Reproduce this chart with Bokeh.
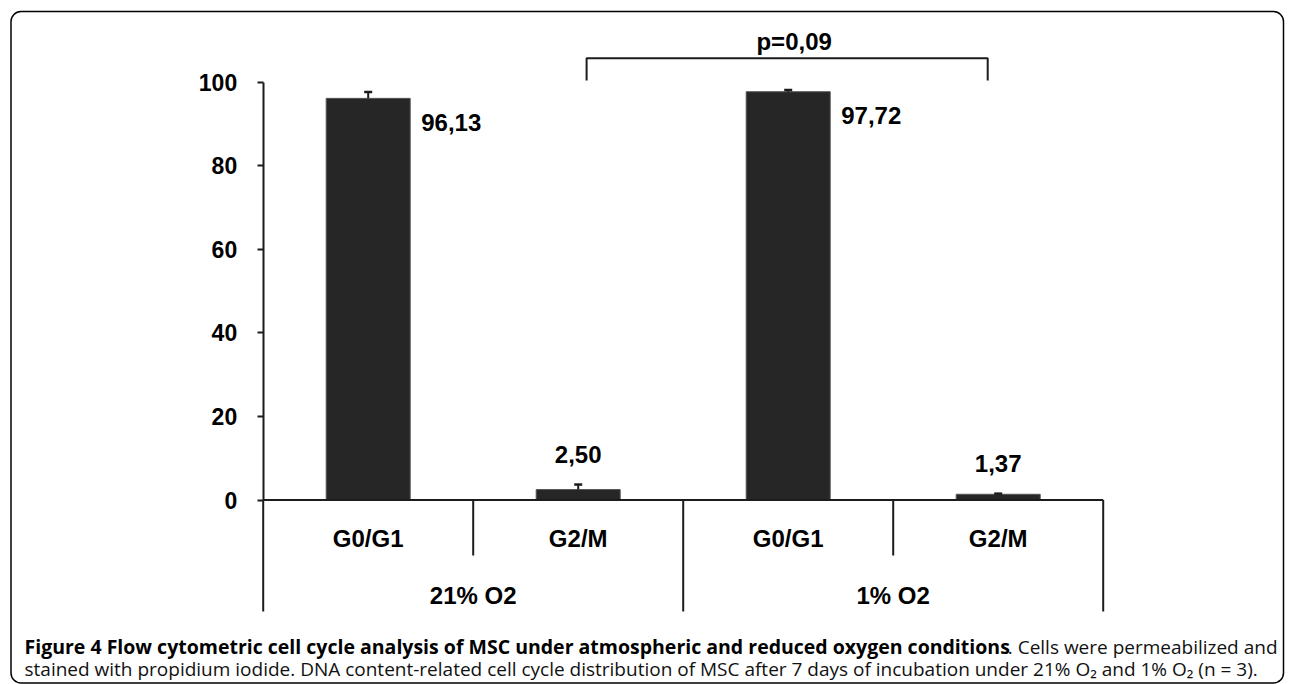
from bokeh.plotting import figure
from bokeh.models import LinearAxis, FixedTicker, Range1d, BoxAnnotation
from bokeh.core.properties import value
from bokeh.embed import file_html
from bokeh.resources import INLINE

# ---------------- data ----------------
groups = ["21% O2", "1% O2"]
phases = ["G0/G1", "G2/M"]
means = [96.13, 2.50, 97.72, 1.37]
errors = [1.5, 1.2, 0.4, 0.15]
value_labels = ["96,13", "2,50", "97,72", "1,37"]
y_ticks = [0, 20, 40, 60, 80, 100]
p_label = "p=0,09"
caption_bold = ("Figure 4 Flow cytometric cell cycle analysis of MSC under "
                "atmospheric and reduced oxygen conditions")
caption_rest1 = ". Cells were permeabilized and"
caption_line2 = ("stained with propidium iodide. DNA content-related cell cycle "
                 "distribution of MSC after 7 days of incubation under 21% O\u2082 "
                 "and 1% O\u2082 (n = 3).")

# ---------------- layout helpers ----------------
W, H = 1293, 684
AX_X = 262.7      # screen x of the value axis
CAT_W = 210.0     # pixels per category
Y0 = 499.5        # screen y of value 0
PX_PER = 4.178    # pixels per percent


def xd(px):
    return (px - AX_X) / CAT_W


def yd(py):
    return (Y0 - py) / PX_PER


CHART_FONT = value("Liberation Sans")
CAP_FONT = value("Open Sans")
INK = "#1c1c1c"

p = figure(width=W, height=H, output_backend="svg", toolbar_location=None,
           x_range=Range1d(xd(0), xd(W)), y_range=Range1d(yd(H), yd(0)),
           x_axis_location=None, y_axis_location=None, title=None,
           min_border=0, outline_line_color=None, background_fill_color="white",
           border_fill_color="white")
for g in p.grid:
    g.visible = False

n_cat = len(groups) * len(phases)
xs = [i + 0.5 for i in range(n_cat)]
tops = [m + e for m, e in zip(means, errors)]

# value axis
yaxis = LinearAxis(fixed_location=0, bounds=(0, 100),
                   ticker=FixedTicker(ticks=y_ticks, minor_ticks=[]),
                   axis_line_width=2, axis_line_color=INK,
                   major_tick_line_width=2, major_tick_line_color=INK,
                   major_tick_out=6, major_tick_in=0,
                   minor_tick_out=0, minor_tick_in=0,
                   major_label_standoff=20,
                   major_label_text_font="Liberation Sans",
                   major_label_text_font_style="bold",
                   major_label_text_font_size="23px",
                   major_label_text_color="black")
p.add_layout(yaxis, "left")

# bars
p.vbar(x=xs, top=means, bottom=0, width=0.4, fill_color="#262626",
       line_color="#555555", line_width=1)

# error bars (upper only)
p.segment(x0=xs, y0=means, x1=xs, y1=tops, line_color=INK, line_width=2)
p.scatter(x=xs, y=tops, marker="dash", size=8, line_color=INK, line_width=2.5)

# baseline and category separators
p.segment(x0=[0], y0=[0], x1=[n_cat], y1=[0], line_color=INK, line_width=2)
inner = [g * len(phases) + j for g in range(len(groups)) for j in range(1, len(phases))]
outer = [g * len(phases) for g in range(len(groups) + 1)]
p.segment(x0=inner, y0=[0] * len(inner), x1=inner, y1=[yd(555)] * len(inner),
          line_color=INK, line_width=2)
p.segment(x0=outer, y0=[0] * len(outer), x1=outer, y1=[yd(611)] * len(outer),
          line_color=INK, line_width=2)

# value labels
side_idx = [i for i in range(n_cat) if i % len(phases) == 0]
top_idx = [i for i in range(n_cat) if i % len(phases) != 0]
p.text(x=[xs[i] + 0.2 for i in side_idx], y=[means[i] - 5.8 for i in side_idx],
       text=[value_labels[i] for i in side_idx], x_offset=11,
       text_align="left", text_baseline="middle", text_font=CHART_FONT,
       text_font_style="bold", text_font_size="24px", text_color="black")
p.text(x=[xs[i] for i in top_idx], y=[tops[i] for i in top_idx],
       text=[value_labels[i] for i in top_idx], y_offset=-30,
       text_align="center", text_baseline="middle", text_font=CHART_FONT,
       text_font_style="bold", text_font_size="24px", text_color="black")

# category labels
p.text(x=xs, y=[yd(537.5)] * n_cat, text=phases * len(groups),
       text_align="center", text_baseline="middle", text_font=CHART_FONT,
       text_font_style="bold", text_font_size="24px", text_color="black")
p.text(x=[g * len(phases) + len(phases) / 2 for g in range(len(groups))],
       y=[yd(594.5)] * len(groups), text=groups,
       text_align="center", text_baseline="middle", text_font=CHART_FONT,
       text_font_style="bold", text_font_size="24px", text_color="black")

# significance bracket
bx0, bx1 = 1.54, 3.45
p.line(x=[bx0, bx0, bx1, bx1], y=[yd(80), yd(57.7), yd(57.7), yd(80)],
       line_color=INK, line_width=2)
p.text(x=[(bx0 + bx1) / 2], y=[yd(41)], text=[p_label], x_offset=7,
       text_align="center", text_baseline="middle", text_font=CHART_FONT,
       text_font_style="bold", text_font_size="24px", text_color="black")

# caption
p.text(x=[xd(24)], y=[yd(646)], text=[caption_bold], text_align="left",
       text_baseline="alphabetic", text_font=CAP_FONT, text_font_style="bold",
       text_font_size="19.5px", text_color="black")
p.text(x=[xd(1277)], y=[yd(646)], text=[caption_rest1], text_align="right",
       text_baseline="alphabetic", text_font=CAP_FONT,
       text_font_size="19px", text_color="#111111")
p.text(x=[xd(24)], y=[yd(668)], text=[caption_line2], text_align="left",
       text_baseline="alphabetic", text_font=CAP_FONT,
       text_font_size="19px", text_color="#111111")

# rounded frame
p.add_layout(BoxAnnotation(left=xd(10.5), right=xd(1283), top=yd(11), bottom=yd(682.5),
                           fill_color=None, line_color="black", line_alpha=1,
                           line_width=1.5, border_radius=10))

open("out.html", "w").write(file_html(p, INLINE))
